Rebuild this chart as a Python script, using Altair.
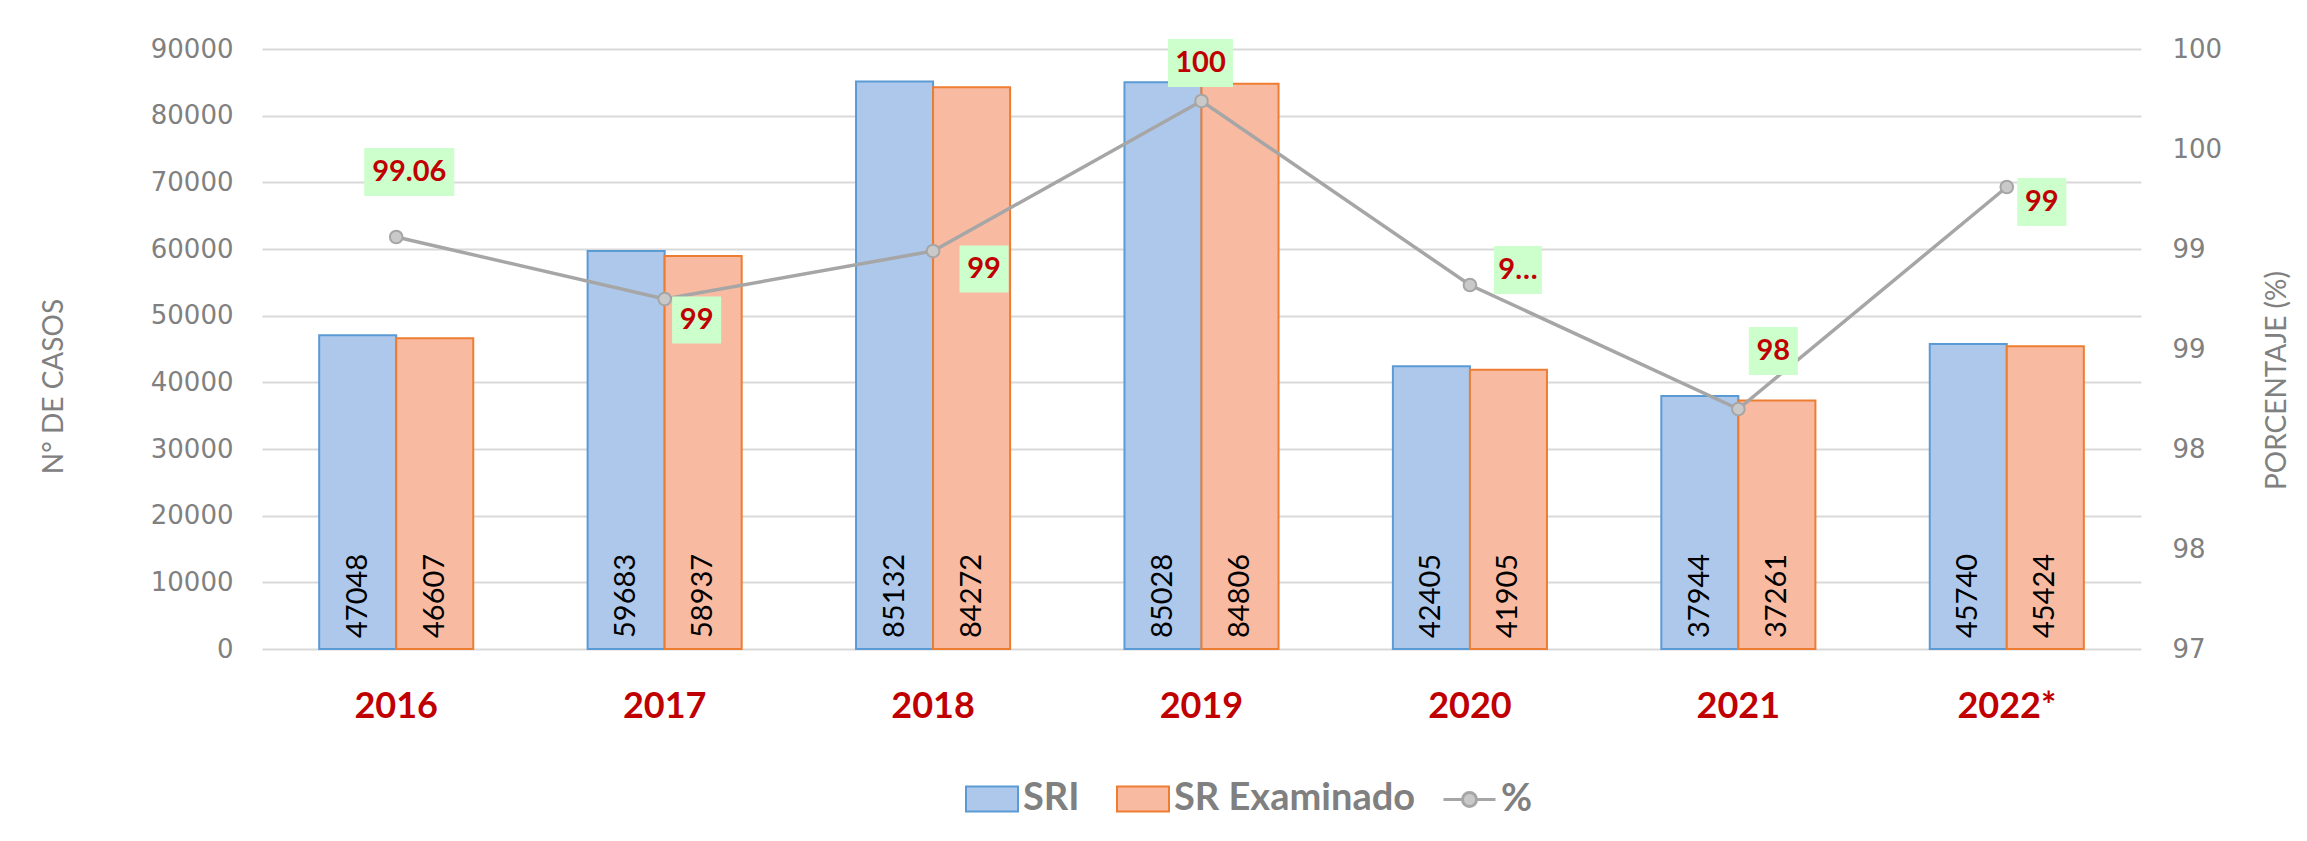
import altair as alt
import pandas as pd

# ---------------- data ----------------
years = ["2016", "2017", "2018", "2019", "2020", "2021", "2022*"]
series = ["SRI", "SR Examinado"]
sri = [47048, 59683, 85132, 85028, 42405, 37944, 45740]
sr_examinado = [46607, 58937, 84272, 84806, 41905, 37261, 45424]
pct = [99.06, 98.75, 98.99, 99.74, 98.82, 98.20, 99.31]
pct_labels = ["99.06", "99", "99", "100", "9…", "98", "99"]
left_ticks = [0, 10000, 20000, 30000, 40000, 50000, 60000, 70000, 80000, 90000]
right_ticks = [97, 97.5, 98, 98.5, 99, 99.5, 100]

bars_df = pd.DataFrame({
    "year": years * 2,
    "serie": [series[0]] * len(years) + [series[1]] * len(years),
    "value": sri + sr_examinado,
})
pct_df = pd.DataFrame({"year": years, "pct": pct, "label": pct_labels,
                       "leg": ["%"] * len(years)})

# ---------------- style ----------------
GRAY = "#808080"
RED = "#c00000"
BOX = "#ccffcc"

# per-label placement of the data labels (dx, dy, box width, box height)
label_style = {
    "2016": (13, -65, 90, 48),
    "2017": (32, 21, 49, 47),
    "2018": (51, 18, 49, 47),
    "2019": (-1, -38, 65, 48),
    "2020": (48, -15, 48, 48),
    "2021": (35, -58, 49, 48),
    "2022*": (35, 15, 49, 48),
}

X = alt.X(
    "year:N", sort=years, title=None,
    scale=alt.Scale(domain=years, paddingInner=0.426, paddingOuter=0.213),
    axis=alt.Axis(labelAngle=0, labelFont="Lato", labelFontWeight="bold",
                  labelFontSize=36, labelColor=RED, labelPadding=40,
                  domain=False, ticks=False, grid=False),
)

rect_legend = "M-1,-0.48H1V0.48H-1Z"
line_legend = ("M-1,0H-0.27M0.27,0H1M0.27,0A0.27,0.27 0 1,1 -0.27,0"
               "A0.27,0.27 0 1,1 0.27,0Z")

legend_common = dict(
    orient="none", direction="horizontal", title=None, padding=0,
    symbolSize=2704, symbolStrokeWidth=2, labelFont="Lato",
    labelFontWeight="bold", labelFontSize=38, labelColor=GRAY,
    labelOffset=4, columnPadding=33, legendY=723, labelLimit=0,
)

fill_scale = alt.Scale(domain=series, range=["#aec8ec", "#f8bba2"])
stroke_scale = alt.Scale(domain=series, range=["#5b9bd5", "#ed7d31"])
bar_legend = alt.Legend(symbolType=rect_legend, legendX=703, symbolOpacity=1,
                        **legend_common)

y_left = alt.Y(
    "value:Q",
    scale=alt.Scale(domain=[0, 90000], nice=False),
    axis=alt.Axis(
        title="N° DE CASOS", values=left_ticks, format="d",
        grid=True, gridColor="#d9d9d9", gridWidth=2,
        domain=False, ticks=False,
        labelFont="DejaVu Sans", labelFontSize=26, labelColor=GRAY, labelPadding=29,
        titleFont="Lato", titleFontSize=28, titleFontWeight="normal", titleColor=GRAY,
        titleAngle=270, titleX=-208, titleY=337, titleAlign="center",
        titleBaseline="middle",
    ),
)

bars = alt.Chart(bars_df).mark_bar(strokeWidth=2).encode(
    x=X,
    xOffset=alt.XOffset("serie:N", sort=series, scale=alt.Scale(domain=series)),
    y=y_left,
    fill=alt.Fill("serie:N", scale=fill_scale, legend=bar_legend),
    stroke=alt.Stroke("serie:N", scale=stroke_scale, legend=bar_legend),
)

bar_text = alt.Chart(bars_df).mark_text(
    angle=270, align="left", baseline="middle", dx=11,
    font="Lato", fontSize=29, color="black",
).encode(
    x=X,
    xOffset=alt.XOffset("serie:N", sort=series, scale=alt.Scale(domain=series)),
    y=alt.datum(0),
    text=alt.Text("value:Q", format="d"),
)

left_group = alt.layer(bars, bar_text)

Y_right = alt.Y(
    "pct:Q",
    scale=alt.Scale(domain=[97, 100], nice=False, zero=False),
    axis=alt.Axis(
        orient="right", title="PORCENTAJE (%)", values=right_ticks, format=".0f",
        grid=False, domain=False, ticks=False,
        labelFont="DejaVu Sans", labelFontSize=26, labelColor=GRAY, labelPadding=31,
        titleFont="Lato", titleFontSize=28, titleFontWeight="normal", titleColor=GRAY,
        titleAngle=270, titleX=136, titleY=331, titleAlign="center",
        titleBaseline="middle",
    ),
)

line = alt.Chart(pct_df).mark_line(strokeWidth=3.5).encode(
    x=X,
    y=Y_right,
    color=alt.Color(
        "leg:N", scale=alt.Scale(range=["#a6a6a6"]),
        legend=alt.Legend(symbolType=line_legend, legendX=1180,
                          symbolFillColor="#c9c9c9", symbolStrokeColor="#a6a6a6",
                          **{**legend_common, "symbolStrokeWidth": 3}),
    ),
)

points = alt.Chart(pct_df).mark_point(
    filled=True, fill="#c9c9c9", stroke="#a6a6a6", strokeWidth=2,
    size=160, opacity=1,
).encode(x=X, y=Y_right)

label_layers = []
for yr, (dx, dy, w, h) in label_style.items():
    hw, hh = w / 2, h / 2
    path = f"M-{hw},-{hh}H{hw}V{hh}H-{hw}Z"
    base = alt.Chart(pct_df).transform_filter(alt.datum.year == yr)
    box = base.mark_point(
        shape=path, size=4, filled=True, fill=BOX, opacity=1, strokeWidth=0,
        xOffset=dx, yOffset=dy,
    ).encode(x=X, y=Y_right)
    txt = base.mark_text(
        font="Lato", fontWeight="bold", fontSize=29, color=RED,
        align="center", baseline="middle", dx=dx, dy=dy,
    ).encode(x=X, y=Y_right, text="label:N")
    label_layers += [box, txt]

right_group = alt.layer(line, points, *label_layers)

chart = (
    alt.layer(left_group, right_group)
    .resolve_scale(y="independent")
    .properties(
        width=1879, height=600,
        autosize=alt.AutoSizeParams(type="none"),
        padding={"left": 254, "top": 41, "right": 150, "bottom": 176},
        background="white",
    )
    .configure_view(stroke=None)
)

chart.save("out.html", embed_options={"renderer": "svg", "actions": False})
